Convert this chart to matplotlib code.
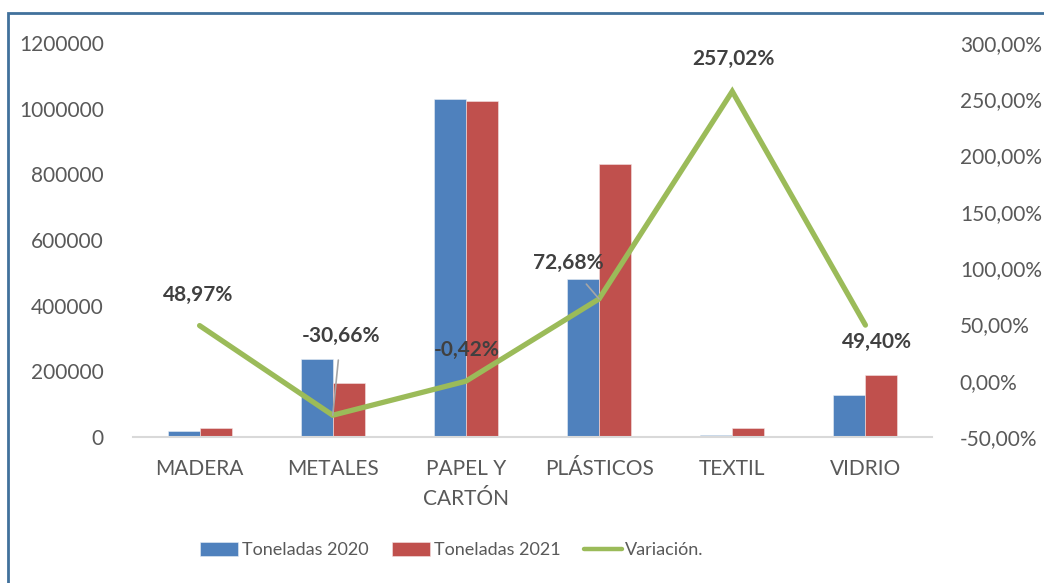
import numpy as np
import matplotlib.pyplot as plt
from matplotlib.patches import Rectangle
from matplotlib.ticker import FuncFormatter

plt.rcParams['font.family'] = ['Lato', 'DejaVu Sans']

# Data
categorias = ["MADERA", "METALES", "PAPEL Y\nCARTÓN", "PLÁSTICOS", "TEXTIL", "VIDRIO"]
ton_2020 = [19200, 236500, 1029000, 481000, 7600, 126400]
ton_2021 = [28600, 164000, 1024700, 830600, 27100, 188800]
variacion = [48.97, -30.66, -0.42, 72.68, 257.02, 49.40]
etiquetas = ["48,97%", "-30,66%", "-0,42%", "72,68%", "257,02%", "49,40%"]

azul = "#4F81BD"
rojo = "#C0504D"
verde = "#9BBB59"
gris_txt = "#595959"
fs = 15

fig = plt.figure(figsize=(10.44, 5.83), dpi=100)
ax = fig.add_axes([133 / 1044, 1 - 437 / 583, (932 - 133) / 1044, (437 - 43) / 583])
ax2 = ax.twinx()

x = np.arange(len(categorias))
w = 0.24
ax.bar(x - w / 2, ton_2020, w, color=azul, edgecolor="#E8EEF6", linewidth=0.4, label="Toneladas 2020", zorder=2)
ax.bar(x + w / 2, ton_2021, w, color=rojo, edgecolor="#F4E4E4", linewidth=0.4, label="Toneladas 2021", zorder=2)
ax.set_xlim(-0.5, len(categorias) - 0.5)
ax.set_ylim(0, 1200000)
ax.set_yticks(np.arange(0, 1200001, 200000))
ax.yaxis.set_major_formatter(FuncFormatter(lambda v, p: f"{int(v)}"))
ax.set_xticks(x)
ax.set_xticklabels(categorias, fontsize=fs, color=gris_txt, linespacing=1.6)

ax2.plot(x, variacion, color=verde, linewidth=3.8, solid_capstyle="round", solid_joinstyle="miter",
         label="Variación.", zorder=3)
ax2.set_ylim(-50, 300)
ax2.set_yticks(np.arange(-50, 301, 50))
ax2.yaxis.set_major_formatter(FuncFormatter(lambda v, p: f"{v:.2f}".replace(".", ",") + "%"))

for a in (ax, ax2):
    for s in a.spines.values():
        s.set_visible(False)
    a.tick_params(length=0, labelsize=fs, labelcolor=gris_txt)
ax.tick_params(axis="y", pad=21)
ax.tick_params(axis="x", pad=16)
ax2.tick_params(axis="y", pad=20)
ax.spines["bottom"].set_visible(True)
ax.spines["bottom"].set_color("#D9D9D9")
ax.spines["bottom"].set_linewidth(1.5)

# data labels (offsets in pixels)
offsets = [(-1, 31), (8, 79), (1, 31), (-31, 36), (1, 32), (12, -17)]
leader = [False, True, False, True, False, False]
for i in range(len(x)):
    kw = {}
    if leader[i]:
        kw["arrowprops"] = dict(arrowstyle="-", color="#A6A6A6", lw=1.2, shrinkA=8, shrinkB=0)
    ax2.annotate(etiquetas[i], (x[i], variacion[i]), xytext=offsets[i], textcoords="offset pixels",
                 ha="center", va="center", fontsize=fs, fontweight="bold", color="#404040",
                 zorder=5, **kw)

h1, l1 = ax.get_legend_handles_labels()
h2, l2 = ax2.get_legend_handles_labels()
leg = fig.legend(h1 + h2, l1 + l2, loc="center", bbox_to_anchor=(452 / 1044, 1 - 550 / 583), ncol=3,
                 frameon=False, fontsize=13, labelcolor=gris_txt, handlelength=2.1, handleheight=0.85,
                 handletextpad=0.2, columnspacing=1.3)
leg.get_lines()[0].set_linewidth(3.2)

# chart border
fig.patches.append(Rectangle((8 / 1044, -0.1), 1.2, 0.1 + 1 - 13 / 583, transform=fig.transFigure,
                             fill=False, edgecolor="#41719C", linewidth=2))

fig.savefig("out.png", dpi=100)
